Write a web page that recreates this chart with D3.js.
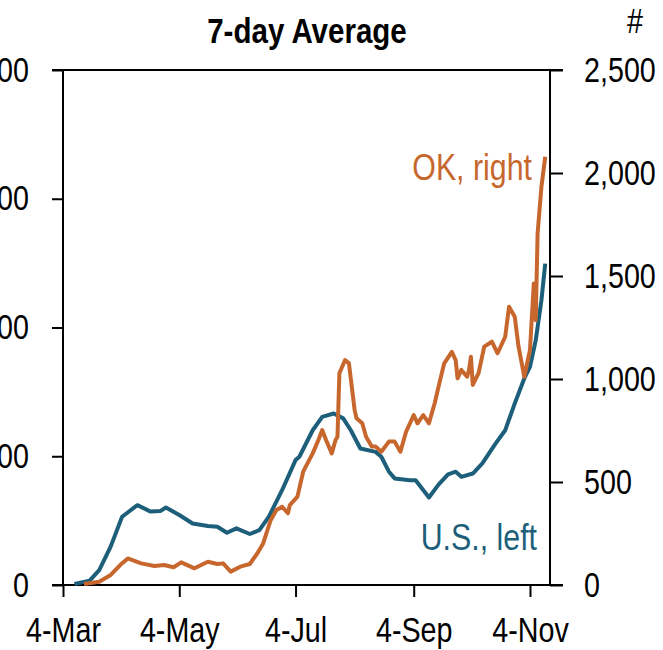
<!DOCTYPE html>
<html>
<head>
<meta charset="utf-8">
<script src="https://cdn.jsdelivr.net/npm/d3@7"></script>
<style>
  html, body { margin: 0; padding: 0; background: #fff; }
  svg { display: block; font-family: "Liberation Sans", Arial, sans-serif; }
</style>
</head>
<body>
<div id="chart"></div>
<script>
// 7-day average of new cases: U.S. (left axis) and Oklahoma (right axis)
const usDates = ["2020-03-10","2020-03-18","2020-03-23","2020-03-29","2020-04-04","2020-04-12",
  "2020-04-19","2020-04-24","2020-04-27","2020-05-04","2020-05-11","2020-05-19","2020-05-24",
  "2020-05-29","2020-06-03","2020-06-10","2020-06-15","2020-06-20","2020-06-27","2020-07-04",
  "2020-07-06","2020-07-13","2020-07-18","2020-07-24","2020-07-29","2020-08-02","2020-08-07",
  "2020-08-15","2020-08-18","2020-08-22","2020-08-25","2020-09-02","2020-09-05","2020-09-12",
  "2020-09-17","2020-09-22","2020-09-26","2020-09-29","2020-10-05","2020-10-10","2020-10-17",
  "2020-10-22","2020-10-27","2020-11-01","2020-11-04","2020-11-07","2020-11-10","2020-11-12"];
const usValues = [400,1700,5800,14900,26500,31000,
  28500,28700,30100,27200,23900,22900,22600,
  20300,22000,19800,21300,26500,36900,48500,
  49800,60100,65300,66600,64700,60100,53000,
  51700,49800,44000,41400,40700,40700,34000,
  39000,43000,44000,42000,43300,47200,55000,
  60100,70500,80200,84700,95000,110600,124800];

const okDates = ["2020-03-15","2020-03-23","2020-03-29","2020-04-03","2020-04-07","2020-04-14",
  "2020-04-21","2020-04-26","2020-05-01","2020-05-05","2020-05-12","2020-05-19","2020-05-24",
  "2020-05-27","2020-05-31","2020-06-05","2020-06-10","2020-06-14","2020-06-17","2020-06-21",
  "2020-06-24","2020-06-27","2020-06-30","2020-07-01","2020-07-05","2020-07-08","2020-07-13",
  "2020-07-16","2020-07-18","2020-07-20","2020-07-23","2020-07-25","2020-07-26","2020-07-27",
  "2020-07-30","2020-08-01","2020-08-04","2020-08-05","2020-08-08","2020-08-10","2020-08-13",
  "2020-08-15","2020-08-18","2020-08-22","2020-08-25","2020-08-28","2020-08-31","2020-09-04",
  "2020-09-06","2020-09-09","2020-09-12","2020-09-15","2020-09-17","2020-09-20","2020-09-24",
  "2020-09-26","2020-09-27","2020-09-29","2020-10-02","2020-10-03","2020-10-04","2020-10-05",
  "2020-10-08","2020-10-11","2020-10-15","2020-10-18","2020-10-22","2020-10-24","2020-10-27",
  "2020-10-29","2020-11-01","2020-11-04","2020-11-06","2020-11-07","2020-11-08","2020-11-10",
  "2020-11-12"];
const okValues = [5,16,49,97,129,105,
  92,97,86,110,81,113,102,
  105,65,89,102,154,202,316,
  364,380,348,388,429,550,639,
  704,752,704,639,704,720,1028,
  1092,1076,849,809,785,720,672,
  672,647,696,696,647,744,825,
  785,825,785,882,962,1076,1132,
  1092,1003,1044,1011,1044,1108,971,
  1028,1157,1181,1125,1205,1351,1302,
  1157,1011,1141,1464,1286,1707,1933,
  2079];

const leftTicks = [0, 50000, 100000, 150000, 200000];
const rightTicks = [0, 500, 1000, 1500, 2000, 2500];
const xTickDates = ["2020-03-04","2020-05-04","2020-07-04","2020-09-04","2020-11-04"];

const width = 663, height = 650;
const margin = {top: 70, right: 113, bottom: 65, left: 63};
const blue = "#1d5f7a", orange = "#c8672d";
const narrow = 0.82; // the source font is a narrow sans, squeeze Liberation Sans to match
const parse = d3.timeParse("%Y-%m-%d");

const svg = d3.select("#chart").append("svg")
  .attr("width", width)
  .attr("height", height);

// horizontal squeeze around each text's anchor point
function condense(sel) {
  sel.attr("transform", function() {
    const ax = +(this.getAttribute("x") || 0);
    return `translate(${ax},0) scale(${narrow},1) translate(${-ax},0)`;
  });
}

const x = d3.scaleTime()
  .domain([parse("2020-03-04"), new Date(2020, 10, 14, 12)])
  .range([margin.left, width - margin.right]);
const yL = d3.scaleLinear().domain([0, 200000]).range([height - margin.bottom, margin.top]);
const yR = d3.scaleLinear().domain([0, 2500]).range([height - margin.bottom, margin.top]);

const x0 = margin.left, x1 = width - margin.right;
const yb = height - margin.bottom, yt = margin.top;

function styleAxis(g) {
  g.select(".domain").remove();
  g.selectAll("line").attr("stroke", "#000").attr("stroke-width", 2);
  g.selectAll("text").attr("font-size", 35).attr("fill", "#000")
    .attr("font-family", "Liberation Sans, Arial, sans-serif");
}

// Axes
svg.append("g")
  .attr("transform", `translate(${x0},0)`)
  .call(d3.axisLeft(yL).tickValues(leftTicks).tickSize(11).tickPadding(23)
    .tickFormat(d3.format(",")))
  .call(styleAxis)
  .call(g => g.selectAll("text").call(condense));

svg.append("g")
  .attr("transform", `translate(${x1},0)`)
  .call(d3.axisRight(yR).tickValues(rightTicks).tickSize(13).tickPadding(21)
    .tickFormat(d3.format(",")))
  .call(styleAxis)
  .call(g => g.selectAll("text").call(condense));

svg.append("g")
  .attr("transform", `translate(0,${yb})`)
  .call(d3.axisBottom(x).tickValues(xTickDates.map(parse)).tickSize(12)
    .tickFormat(d3.timeFormat("%-d-%b")))
  .call(styleAxis)
  .call(g => g.selectAll("text").attr("y", 57).attr("dy", 0).call(condense));

// Frame lines
const frame = svg.append("g").attr("stroke", "#000").attr("stroke-width", 2);
frame.append("line").attr("x1", x0 - 11).attr("x2", x1 + 13).attr("y1", yt).attr("y2", yt);
frame.append("line").attr("x1", x0 - 11).attr("x2", x1 + 13).attr("y1", yb).attr("y2", yb);
frame.append("line").attr("x1", x0).attr("x2", x0).attr("y1", yt).attr("y2", yb);
frame.append("line").attr("x1", x1).attr("x2", x1).attr("y1", yt).attr("y2", yb);

// Lines
const usData = usDates.map((d, i) => ({date: parse(d), value: usValues[i]}));
const okData = okDates.map((d, i) => ({date: parse(d), value: okValues[i]}));

svg.append("path")
  .datum(usData)
  .attr("fill", "none")
  .attr("stroke", blue)
  .attr("stroke-width", 4)
  .attr("stroke-linejoin", "round")
  .attr("d", d3.line().x(d => x(d.date)).y(d => yL(d.value)));

svg.append("path")
  .datum(okData)
  .attr("fill", "none")
  .attr("stroke", orange)
  .attr("stroke-width", 4)
  .attr("stroke-linejoin", "round")
  .attr("d", d3.line().x(d => x(d.date)).y(d => yR(d.value)));

// Labels
svg.append("text")
  .attr("x", 532).attr("y", 180)
  .attr("text-anchor", "end")
  .attr("font-size", 37)
  .attr("fill", orange)
  .text("OK, right")
  .call(condense);

svg.append("text")
  .attr("x", 537).attr("y", 550)
  .attr("text-anchor", "end")
  .attr("font-size", 37)
  .attr("fill", blue)
  .text("U.S., left")
  .call(condense);

svg.append("text")
  .attr("x", 307).attr("y", 43)
  .attr("text-anchor", "middle")
  .attr("font-size", 36)
  .attr("font-weight", "bold")
  .text("7-day Average")
  .call(condense);

svg.append("text")
  .attr("x", 635).attr("y", 33)
  .attr("text-anchor", "middle")
  .attr("font-size", 35)
  .text("#")
  .call(condense);
</script>
</body>
</html>
